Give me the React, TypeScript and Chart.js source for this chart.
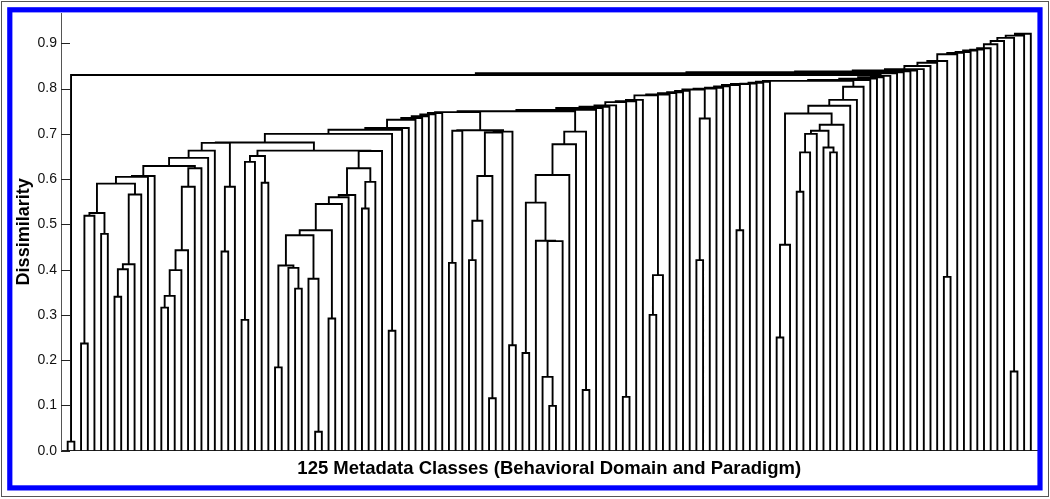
import React, { useEffect, useRef } from "react";
import { Chart, registerables } from "chart.js";

Chart.register(...registerables);

// Leaves are numbered 1..145 from left to right (their x value on the axis).
const LEAF_COUNT = 145;
const yTickValues = [0, 0.1, 0.2, 0.3, 0.4, 0.5, 0.6, 0.7, 0.8, 0.9];
const xTitle = "125 Metadata Classes (Behavioral Domain and Paradigm)";
const yTitle = "Dissimilarity";

// Merge k (1-based) joins mergeLeft[k-1] and mergeRight[k-1] at mergeHeight[k-1].
// A positive number is a leaf; a negative number -j is the cluster made by merge j.
const mergeLeft = [
  1, 3, -2, 6, -3, 8, -6, -7, -8, -5, -10, -11, 15, -13, -14, -15, -16, -17, -12, -19,
  -20, 24, -22, -21, 27, -25, 30, -26, 32, 35, 34, -29, 38, 37, -32, 40, -35, -37, -38, -39,
  45, -41, -40, -43, -28, -24, 49, -46, -48, -49, -50, -51, -52, -53, -54, 58, 61, -57, 64, -58,
  67, -56, -60, -63, -62, -55, 69, 73, 72, -69, 71, -67, -72, -73, 78, -74, -66, -77, -78, -79,
  -80, 84, -81, -83, -84, 88, -86, -85, -88, -89, -90, -91, 95, -93, -92, -95, -96, -97, 101, -98,
  -100, -101, -102, -103, 107, -105, 110, -107, 115, 114, -108, -111, -112, -106, -114, -115, -116, -104, -118, -119,
  -120, -121, -1, -123, -124, -125, -126, -127, -128, -129, 132, -130, -132, -133, -134, -135, -136, -137, -138, -139,
  142, -140, -142, -143,
];
const mergeRight = [
  2, 4, 5, 7, -4, 9, 10, 11, 12, -9, 13, 14, 16, 17, 18, 19, 20, 21, -18, 22,
  23, 25, 26, -23, 28, 29, 31, -27, 33, 36, -30, -31, 39, -33, -34, 41, -36, 42, 43, 44,
  46, 47, -42, 48, -44, -45, 50, -47, 51, 52, 53, 54, 55, 56, 57, 59, 62, 63, 65, -59,
  68, 60, 66, -61, -64, -65, 70, 74, -68, 75, -70, -71, 76, 77, 79, -75, -76, 80, 81, 82,
  83, 85, -82, 86, 87, 89, 90, -87, 91, 92, 93, 94, 96, 97, -94, 98, 99, 100, 102, -99,
  103, 104, 105, 106, 108, 109, 111, 112, 116, -109, 113, -110, 117, -113, 118, 119, 120, -117, 121, 122,
  123, 124, -122, 125, 126, 127, 128, 129, 130, 131, 133, -131, 134, 135, 136, 137, 138, 139, 140, 141,
  143, -141, 144, 145,
];
const mergeHeight = [
  0.02, 0.237, 0.519, 0.479, 0.525, 0.34, 0.401, 0.412, 0.566, 0.59,
  0.605, 0.607, 0.316, 0.342, 0.399, 0.443, 0.583, 0.624, 0.629, 0.647,
  0.663, 0.44, 0.583, 0.68, 0.289, 0.638, 0.592, 0.651, 0.184, 0.358,
  0.404, 0.409, 0.042, 0.38, 0.476, 0.292, 0.487, 0.545, 0.56, 0.565,
  0.535, 0.594, 0.624, 0.662, 0.663, 0.681, 0.265, 0.7, 0.709, 0.713,
  0.731, 0.735, 0.739, 0.743, 0.746, 0.415, 0.421, 0.508, 0.116, 0.607,
  0.233, 0.707, 0.703, 0.705, 0.708, 0.748, 0.216, 0.099, 0.163, 0.463,
  0.464, 0.548, 0.609, 0.677, 0.134, 0.705, 0.75, 0.753, 0.757, 0.76,
  0.763, 0.119, 0.77, 0.772, 0.775, 0.3, 0.388, 0.785, 0.787, 0.79,
  0.792, 0.795, 0.421, 0.734, 0.798, 0.8, 0.802, 0.805, 0.487, 0.808,
  0.81, 0.811, 0.813, 0.815, 0.25, 0.455, 0.572, 0.659, 0.659, 0.67,
  0.7, 0.707, 0.72, 0.745, 0.762, 0.775, 0.804, 0.817, 0.819, 0.822,
  0.825, 0.828, 0.83, 0.834, 0.836, 0.838, 0.84, 0.843, 0.85, 0.857,
  0.384, 0.861, 0.876, 0.879, 0.881, 0.884, 0.886, 0.889, 0.898, 0.905,
  0.175, 0.912, 0.917, 0.921,
];

type Pt = { x: number; y: number | null };

function buildSegments(): Pt[] {
  const cx: number[] = [];
  const cy: number[] = [];
  const xOf = (r: number) => (r > 0 ? r : cx[-r - 1]);
  const yOf = (r: number) => (r > 0 ? 0 : cy[-r - 1]);
  const pts: Pt[] = [];
  for (let k = 0; k < mergeHeight.length; k++) {
    const a = mergeLeft[k];
    const b = mergeRight[k];
    const h = mergeHeight[k];
    const xa = xOf(a);
    const xb = xOf(b);
    pts.push({ x: xa, y: yOf(a) }, { x: xa, y: h }, { x: xb, y: h }, { x: xb, y: yOf(b) });
    pts.push({ x: xb, y: null });
    cx.push((xa + xb) / 2);
    cy.push(h);
  }
  return pts;
}

const FONT = "'Liberation Sans', Arial, Helvetica, sans-serif";

const framePlugin = {
  id: "framePlugin",
  beforeDraw(chart: any) {
    const { ctx, width, height } = chart;
    ctx.save();
    ctx.fillStyle = "#ffffff";
    ctx.fillRect(0, 0, width, height);
    ctx.restore();
  },
  afterDraw(chart: any) {
    const { ctx, chartArea } = chart;
    const yScale = chart.scales.y;
    ctx.save();
    // inward tick marks
    ctx.strokeStyle = "#222";
    ctx.lineWidth = 1;
    ctx.beginPath();
    for (const v of yTickValues) {
      const py = Math.round(yScale.getPixelForValue(v)) + 0.5;
      ctx.moveTo(chartArea.left, py);
      ctx.lineTo(chartArea.left + 9, py);
    }
    ctx.stroke();
    // outer frames
    ctx.strokeStyle = "#555";
    ctx.lineWidth = 1;
    ctx.strokeRect(1.5, 1.5, 1047, 495);
    ctx.strokeStyle = "#0000ff";
    ctx.lineWidth = 5.2;
    ctx.strokeRect(9.8, 9.8, 1030.2, 478.1);
    ctx.restore();
  },
};

export default function App() {
  const ref = useRef<HTMLCanvasElement | null>(null);
  useEffect(() => {
    if (!ref.current) return;
    const chart = new Chart(ref.current, {
      type: "scatter",
      data: {
        datasets: [
          {
            data: buildSegments() as any,
            showLine: true,
            spanGaps: false,
            borderColor: "#000000",
            borderWidth: 1.9,
            pointRadius: 0,
            pointHoverRadius: 0,
            tension: 0,
          },
        ],
      },
      options: {
        responsive: false,
        devicePixelRatio: 1,
        animation: false,
        events: [],
        layout: { padding: { left: 0, right: 12.5, top: 13, bottom: 0 } },
        plugins: { legend: { display: false }, tooltip: { enabled: false } },
        scales: {
          x: {
            type: "linear",
            min: 0,
            max: LEAF_COUNT + 1,
            grid: { display: false, drawTicks: false },
            border: { display: true, color: "#222", width: 1 },
            ticks: { display: false },
            title: {
              display: true,
              text: xTitle,
              color: "#000",
              font: { family: FONT, size: 18.5, weight: "bold" },
              padding: { top: 0, bottom: 19 },
            },
            afterFit: (s: any) => {
              s.height = 48.3;
            },
          },
          y: {
            type: "linear",
            min: 0,
            max: 0.967,
            grid: { display: false, drawTicks: false },
            border: { display: true, color: "#555", width: 1 },
            afterBuildTicks: (s: any) => {
              s.ticks = yTickValues.map((v) => ({ value: v }));
            },
            ticks: {
              padding: 4,
              color: "#111",
              font: { family: FONT, size: 14 },
              callback: (v: any) => Number(v).toFixed(1),
            },
            title: {
              display: true,
              text: yTitle,
              color: "#000",
              font: { family: FONT, size: 18, weight: "bold" },
              padding: { top: 13, bottom: 0 },
            },
            afterFit: (s: any) => {
              s.width = 61;
            },
          },
        },
      } as any,
      plugins: [framePlugin],
    });
    return () => chart.destroy();
  }, []);
  return (
    <div style={{ position: "fixed", left: 0, top: 0, width: 1050, height: 499 }}>
      <canvas ref={ref} width={1050} height={499} style={{ display: "block" }} />
    </div>
  );
}
